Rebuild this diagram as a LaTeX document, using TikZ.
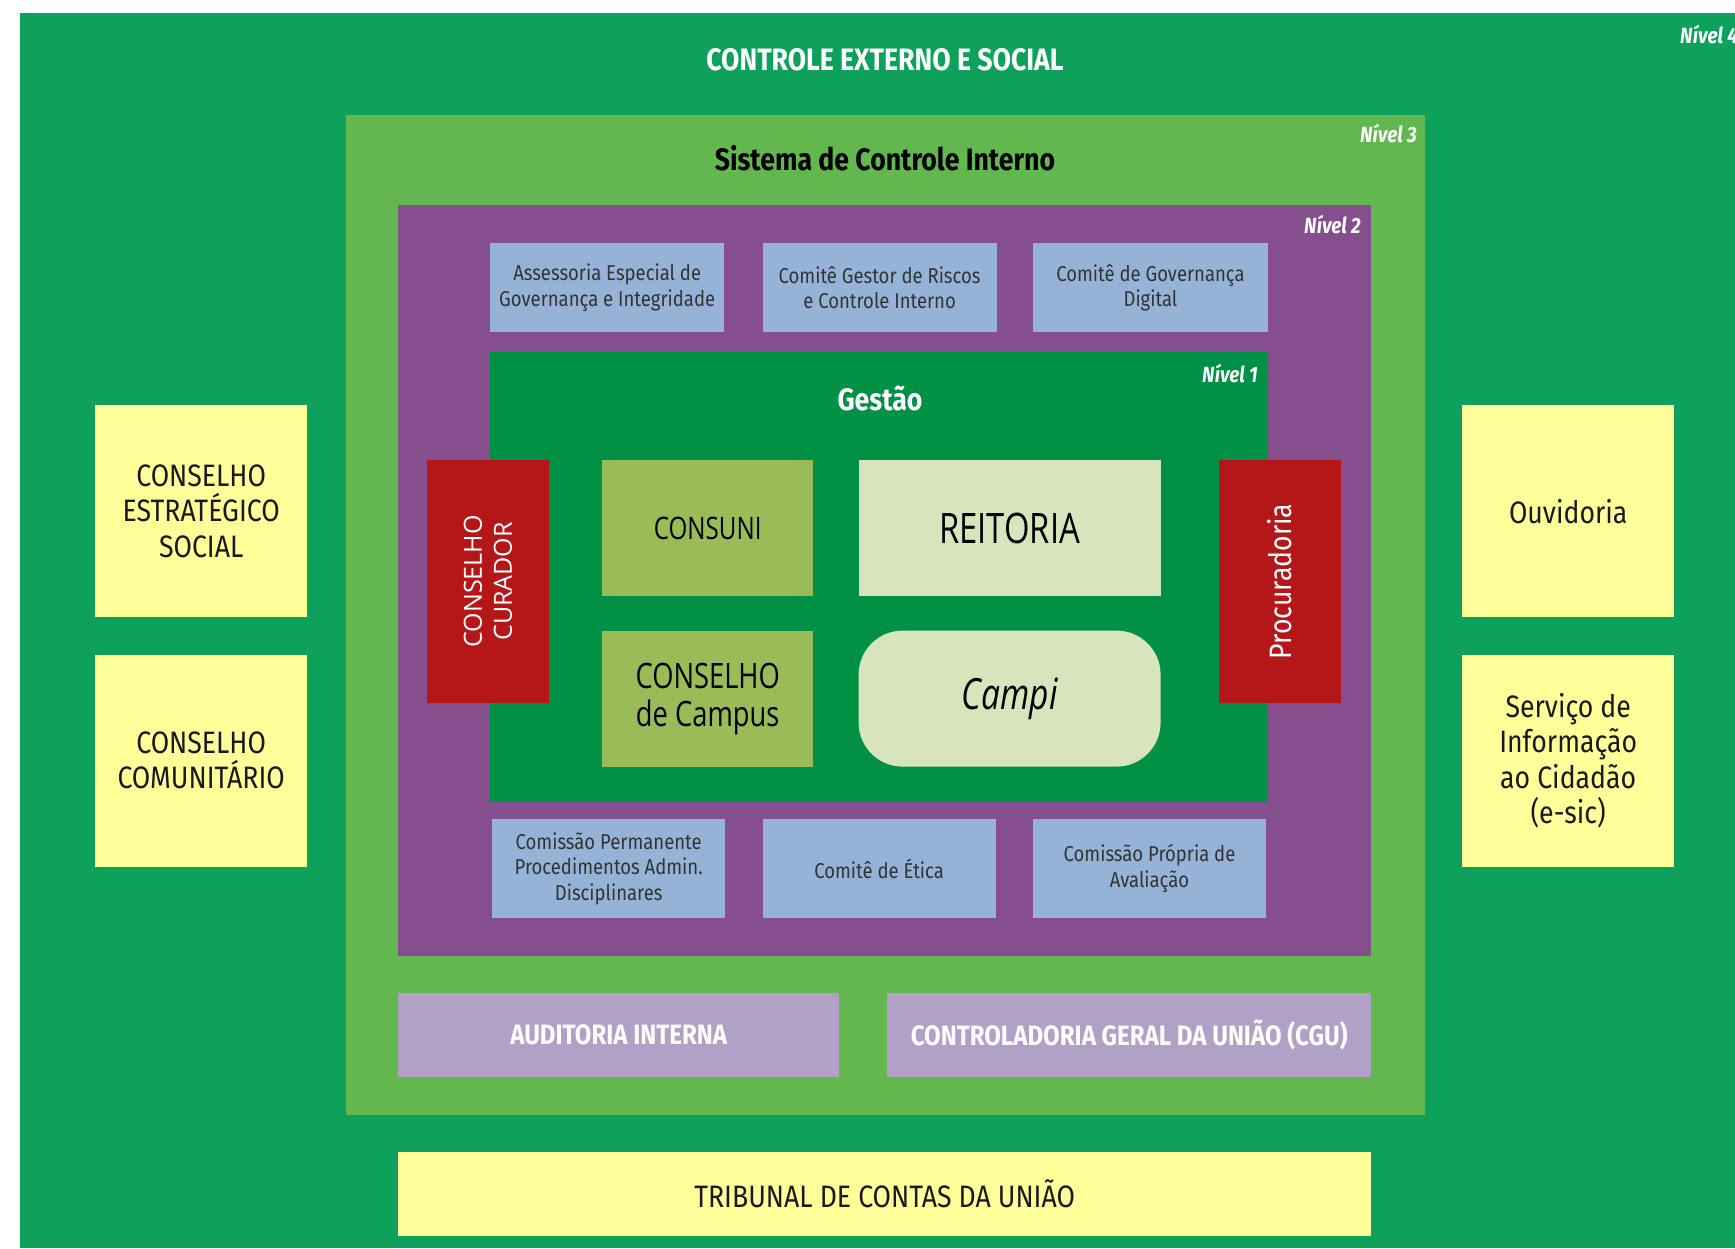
\documentclass[tikz,border=0pt]{standalone}
\usepackage{fontspec}
\setmainfont{Fira Sans}[FakeStretch=0.86]
\newfontfamily\narrowfont{Open Sans}[FakeStretch=0.78]
\newfontfamily\widefont{Open Sans}
\usepackage{xcolor}
\usepackage{tikz}
\usetikzlibrary{positioning}

\definecolor{extgreen}{HTML}{0DA15B}
\definecolor{intgreen}{HTML}{62B74E}
\definecolor{nivpurple}{HTML}{854E8C}
\definecolor{gestgreen}{HTML}{009046}
\definecolor{comblue}{HTML}{95B3D7}
\definecolor{conred}{HTML}{B51718}
\definecolor{consgreen}{HTML}{9BBB59}
\definecolor{reitpale}{HTML}{D8E4BC}
\definecolor{softyellow}{HTML}{FFFF99}
\definecolor{audlav}{HTML}{B2A1C7}
\definecolor{darktext}{HTML}{333333}

\begin{document}
\begin{tikzpicture}[
    x=1pt, y=-1pt,
    area/.style={rectangle, fill=#1, anchor=north west, inner sep=0pt},
    block/.style={rectangle, fill=#1, anchor=north west, inner sep=0pt, align=center, text=darktext, font=\fontsize{21.5}{25.5}\selectfont},
    block/.default=comblue,
    bigblock/.style={rectangle, fill=#1, anchor=north west, inner sep=0pt, align=center, text=black!90, font=\fontsize{31}{35.4}\selectfont, minimum width=212pt, minimum height=212pt},
    bigblock/.default=softyellow,
    centerblock/.style={rectangle, fill=#1, anchor=north west, inner sep=0pt, align=center, text=black, minimum height=136pt},
    sideblock/.style={rectangle, fill=conred, inner sep=0pt, align=center, text=white, rotate=90, minimum width=243pt, minimum height=122pt},
    title/.style={font=\fontsize{31}{31}\selectfont\bfseries, inner sep=0pt},
    nivel/.style={font=\fontsize{22}{22}\selectfont\bfseries\itshape, text=white, inner sep=0pt}
]
\useasboundingbox[fill=white] (0,0) rectangle (1735,1248);

% Nested levels
\node[area=extgreen, minimum width=1715pt, minimum height=1235pt] (nivel4) at (20,13) {};
\node[area=intgreen, minimum width=1079pt, minimum height=1000pt] (nivel3) at (346,115) {};
\node[area=nivpurple, minimum width=973pt, minimum height=751pt] (nivel2) at (398,205) {};
\node[area=gestgreen, minimum width=778pt, minimum height=450pt] (nivel1) at (490,352) {};

% Level labels and titles
\node[nivel, anchor=base west] (lab4) at (1680,43) {Nível 4};
\node[nivel, anchor=base east] (lab3) at (1417,142) {Nível 3};
\node[nivel, anchor=base east] (lab2) at (1361,233) {Nível 2};
\node[nivel, anchor=base east] (lab1) at (1258,382) {Nível 1};
\node[title, text=white] (externo) at (885,60) {CONTROLE EXTERNO E SOCIAL};
\node[title, text=black] (interno) at (885,158) {Sistema de Controle Interno};
\node[title, text=white] (gestao) at (880,398) {Gestão};

% Committees above and below management
\node[block, minimum width=234pt, minimum height=89pt] (assessoria) at (490,243) {Assessoria Especial de\\Governança e Integridade};
\node[block, minimum width=234pt, minimum height=89pt, right=38pt of assessoria] (riscos) {Comitê Gestor de Riscos\\e Controle Interno};
\node[block, minimum width=235pt, minimum height=89pt, right=36pt of riscos] (digital) {Comitê de Governança\\Digital};
\node[block, minimum width=233pt, minimum height=99pt] (cppad) at (492,819) {Comissão Permanente\\Procedimentos Admin.\\Disciplinares};
\node[block, minimum width=233pt, minimum height=99pt, right=37pt of cppad] (etica) {Comitê de Ética};
\node[block, minimum width=233pt, minimum height=99pt, right=37pt of etica] (cpa) {Comissão Própria de\\Avaliação};

% Management core
\node[sideblock, font=\widefont\fontsize{25}{30}\selectfont] (curador) at (488,581.5) {CONSELHO\\CURADOR};
\node[sideblock, font=\fontsize{31}{31}\selectfont] (procuradoria) at (1280,581.5) {Procuradoria};
\node[centerblock=consgreen, minimum width=211pt, font=\narrowfont\fontsize{31}{31}\selectfont] (consuni) at (602,460) {CONSUNI};
\node[centerblock=reitpale, minimum width=302pt, font=\narrowfont\fontsize{42}{42}\selectfont, right=45pt of consuni] (reitoria) {REITORIA};
\node[centerblock=consgreen, minimum width=211pt, font=\narrowfont\fontsize{35}{38}\selectfont, below=34pt of consuni] (campus) {CONSELHO\\de Campus};
\node[centerblock=reitpale, minimum width=302pt, rounded corners=44pt, font=\narrowfont\itshape\fontsize{43}{43}\selectfont, below=34pt of reitoria] (campi) {Campi};

% Social councils and citizen services
\node[bigblock] (estrategico) at (95,405) {CONSELHO\\ESTRATÉGICO\\SOCIAL};
\node[bigblock, below=37pt of estrategico] (comunitario) {CONSELHO\\COMUNITÁRIO};
\node[bigblock] (ouvidoria) at (1462,405) {Ouvidoria};
\node[bigblock, below=37pt of ouvidoria] (esic) {Serviço de\\Informação\\ao Cidadão\\(e-sic)};

% Audit bodies
\node[block=audlav, minimum width=441pt, minimum height=84pt, text=white, font=\fontsize{28}{28}\selectfont\bfseries] (auditoria) at (398,993) {AUDITORIA INTERNA};
\node[block=audlav, minimum width=484pt, minimum height=84pt, text=white, font=\fontsize{28}{28}\selectfont\bfseries] (cgu) at (887,993) {CONTROLADORIA GERAL DA UNIÃO (CGU)};
\node[block=softyellow, minimum width=973pt, minimum height=84pt, text=black!90, font=\fontsize{31}{31}\selectfont] (tcu) at (398,1152) {TRIBUNAL DE CONTAS DA UNIÃO};
\end{tikzpicture}
\end{document}
